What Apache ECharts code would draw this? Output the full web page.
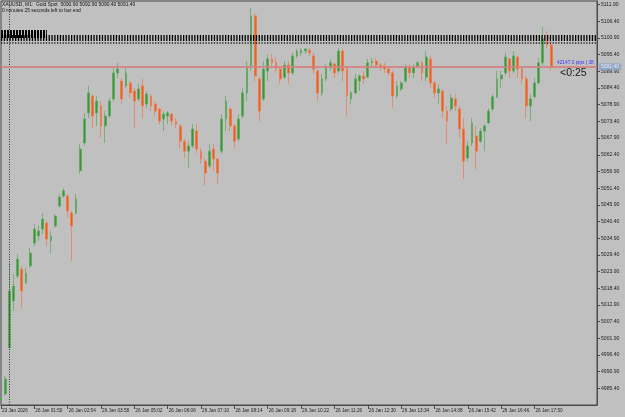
<!DOCTYPE html>
<html>
<head>
<meta charset="utf-8">
<title>XAUUSD M1</title>
<script src="https://cdn.jsdelivr.net/npm/echarts@6.0.0/dist/echarts.min.js"></script>
<style>
  html, body { margin: 0; padding: 0; background: #c0c0c0; }
  #chart { width: 625px; height: 417px; }
</style>
</head>
<body>
<div id="chart"></div>
<script>
// one candle = 8 minutes, first two candles are the Friday close
var categories = ['23 Jan 2026', '23 Jan 23:54'];
for (var k = 2; k < 144; k++) {
  var m = 62 + (k - 2) * 8;
  var hh = Math.floor(m / 60), mm = m % 60;
  categories.push('26 Jan ' + (hh < 10 ? '0' : '') + hh + ':' + (mm < 10 ? '0' : '') + mm);
}

var opens = [
  4981.5, 4983.5, 4998.7, 5014.2, 5022.4, 5024.7, 5020.1, 5025.7, 5033.3, 5035.6,
  5037.9, 5039.9, 5034.0, 5038.9, 5045.5, 5048.8, 5048.8, 5043.2, 5043.2, 5057.1,
  5066.3, 5076.2, 5081.8, 5076.2, 5078.5, 5071.9, 5075.2, 5080.8, 5089.4, 5086.7,
  5085.1, 5086.1, 5083.4, 5080.8, 5085.1, 5079.1, 5081.8, 5079.1, 5077.5, 5074.2,
  5075.2, 5075.8, 5073.5, 5071.9, 5066.9, 5063.6, 5065.3, 5070.2, 5063.6, 5060.3,
  5058.7, 5064.3, 5061.0, 5063.6, 5074.2, 5077.5, 5071.9, 5067.6, 5075.2, 5082.8,
  5091.7, 5108.2, 5087.4, 5080.8, 5090.0, 5094.0, 5092.7, 5090.7, 5088.0, 5092.0,
  5089.4, 5095.0, 5096.0, 5096.6, 5096.9, 5095.0, 5090.0, 5082.8, 5087.4, 5091.3,
  5092.3, 5090.0, 5096.6, 5090.7, 5080.8, 5082.8, 5086.7, 5088.4, 5088.0, 5092.7,
  5093.3, 5092.0, 5091.7, 5090.7, 5089.4, 5081.8, 5084.1, 5086.7, 5091.3, 5089.4,
  5091.7, 5092.7, 5088.0, 5094.0, 5086.1, 5082.8, 5083.4, 5076.8, 5077.5, 5080.8,
  5077.5, 5070.9, 5061.3, 5066.3, 5068.6, 5066.9, 5070.2, 5072.9, 5077.5, 5081.5,
  5087.4, 5089.4, 5094.0, 5090.0, 5094.6, 5090.7, 5087.4, 5078.5, 5081.5, 5086.1,
  5092.7, 5100.6, 5098.6
];
var closes = [
  4982.2, 4988.5, 5017.5, 5019.1, 5028.0, 5017.5, 5023.4, 5030.0, 5037.9, 5037.3,
  5041.2, 5034.6, 5035.6, 5042.2, 5048.5, 5050.5, 5043.9, 5038.9, 5047.8, 5064.3,
  5074.2, 5082.8, 5075.2, 5080.1, 5071.9, 5075.2, 5080.1, 5089.4, 5090.7, 5080.8,
  5089.4, 5082.8, 5080.1, 5084.1, 5078.5, 5082.4, 5078.5, 5076.8, 5073.5, 5075.8,
  5076.2, 5073.5, 5072.5, 5066.9, 5063.6, 5065.3, 5070.9, 5064.3, 5061.0, 5056.4,
  5063.6, 5061.0, 5056.4, 5074.2, 5080.1, 5071.9, 5066.9, 5074.2, 5082.8, 5091.7,
  5108.2, 5088.4, 5076.8, 5090.7, 5094.0, 5092.7, 5090.7, 5087.4, 5092.0, 5089.4,
  5095.0, 5096.6, 5096.9, 5097.3, 5096.0, 5090.7, 5082.8, 5087.4, 5091.3, 5092.7,
  5089.4, 5096.6, 5090.0, 5081.8, 5082.8, 5087.4, 5088.4, 5087.4, 5092.7, 5093.3,
  5092.0, 5091.3, 5090.7, 5089.4, 5081.8, 5085.1, 5086.1, 5091.3, 5089.4, 5091.3,
  5092.7, 5089.4, 5094.6, 5086.1, 5082.8, 5084.1, 5076.8, 5073.5, 5081.1, 5078.5,
  5070.9, 5060.3, 5065.3, 5072.9, 5063.6, 5070.2, 5071.9, 5076.8, 5081.5, 5087.4,
  5088.7, 5094.6, 5090.0, 5095.0, 5090.7, 5087.4, 5078.5, 5080.8, 5086.1, 5092.7,
  5100.6, 5098.6, 5091.4
];
var lows = [
  4981.2, 4982.9, 4998.7, 5010.9, 5021.8, 5011.9, 5019.8, 5025.1, 5032.3, 5034.0,
  5036.3, 5032.3, 5030.0, 5038.3, 5044.9, 5048.2, 5041.6, 5027.4, 5042.9, 5056.1,
  5065.3, 5074.5, 5071.2, 5071.9, 5067.9, 5066.3, 5074.5, 5080.1, 5087.7, 5079.1,
  5084.4, 5081.1, 5071.2, 5080.1, 5074.5, 5077.8, 5076.8, 5075.2, 5072.5, 5070.2,
  5072.5, 5071.9, 5071.2, 5064.6, 5061.3, 5058.0, 5064.6, 5063.0, 5059.4, 5052.1,
  5058.0, 5057.1, 5052.8, 5062.7, 5070.2, 5070.2, 5064.6, 5066.9, 5074.5, 5080.1,
  5090.0, 5086.7, 5073.5, 5080.1, 5086.7, 5091.0, 5089.4, 5085.7, 5087.4, 5085.7,
  5088.7, 5094.3, 5095.0, 5095.6, 5095.0, 5089.0, 5080.1, 5081.8, 5086.7, 5090.0,
  5087.7, 5089.4, 5086.7, 5075.2, 5079.1, 5082.4, 5083.4, 5085.7, 5087.7, 5091.0,
  5091.0, 5090.0, 5089.4, 5088.4, 5077.8, 5081.1, 5083.4, 5086.1, 5087.7, 5087.7,
  5091.0, 5086.7, 5086.7, 5084.4, 5081.1, 5079.1, 5074.5, 5066.0, 5076.8, 5076.8,
  5067.9, 5054.4, 5060.3, 5065.3, 5057.7, 5066.3, 5063.6, 5072.5, 5076.8, 5081.1,
  5084.4, 5088.7, 5087.7, 5089.4, 5087.7, 5085.7, 5074.5, 5073.5, 5081.1, 5085.7,
  5092.0, 5097.6, 5090.0
];
var highs = [
  4982.5, 4989.5, 5026.7, 5023.1, 5029.7, 5025.7, 5025.1, 5031.7, 5039.6, 5038.9,
  5043.2, 5040.6, 5037.3, 5042.9, 5049.5, 5051.4, 5049.5, 5043.9, 5049.5, 5066.0,
  5076.2, 5085.1, 5082.4, 5081.8, 5080.1, 5076.8, 5081.1, 5091.0, 5092.7, 5087.7,
  5091.0, 5086.7, 5084.4, 5085.7, 5087.4, 5083.4, 5082.4, 5080.1, 5077.8, 5076.8,
  5076.8, 5076.2, 5074.5, 5072.5, 5067.6, 5066.9, 5072.5, 5072.5, 5064.6, 5061.3,
  5066.0, 5066.0, 5061.3, 5075.8, 5081.8, 5077.8, 5072.5, 5075.8, 5084.4, 5093.3,
  5110.8, 5109.1, 5088.0, 5093.3, 5095.6, 5095.6, 5094.3, 5091.0, 5093.3, 5093.3,
  5096.0, 5097.3, 5097.6, 5097.6, 5097.6, 5096.0, 5090.7, 5089.0, 5092.3, 5094.0,
  5092.7, 5097.6, 5097.3, 5091.7, 5083.4, 5089.0, 5089.0, 5090.0, 5094.0, 5094.3,
  5094.3, 5092.7, 5092.7, 5091.0, 5090.0, 5086.7, 5086.7, 5092.3, 5092.3, 5092.3,
  5093.3, 5093.3, 5096.6, 5095.0, 5086.7, 5085.7, 5084.1, 5078.5, 5082.4, 5082.4,
  5078.5, 5074.5, 5066.9, 5074.5, 5071.9, 5071.2, 5072.5, 5077.8, 5082.4, 5090.0,
  5090.0, 5096.0, 5094.3, 5096.6, 5095.0, 5091.0, 5088.4, 5082.4, 5087.7, 5094.3,
  5104.5, 5103.2, 5099.9
];

var bidPrice = 5091.40;
var titleLine = 'XAUUSD, M1:  Gold Spot  5090.90 5092.90 5090.40 5091.40';
var timerLine = '0 minutes 25 seconds left to bar end';

var candles = [];
for (var i = 0; i < opens.length; i++) {
  candles.push([opens[i], closes[i], lows[i], highs[i]]);
}

// labels every 64 minutes, only where bars exist
function labelAt(idx) {
  return idx % 8 === 0 && idx <= 128;
}

var chart = echarts.init(document.getElementById('chart'), null, { renderer: 'canvas' });

var option = {
  backgroundColor: '#c0c0c0',
  animation: false,
  grid: {
    left: 1,
    right: 28,
    top: 1,
    bottom: 12,
    show: true,
    borderColor: '#4a4a4a',
    borderWidth: 1,
    outerBoundsMode: 'none'
  },
  xAxis: {
    type: 'category',
    data: categories,
    boundaryGap: false,
    axisLine: { lineStyle: { color: '#4a4a4a', width: 1 } },
    axisTick: { interval: function (idx) { return labelAt(idx); }, length: 4, lineStyle: { color: '#4a4a4a' } },
    axisLabel: {
      interval: function (idx) { return labelAt(idx); },
      align: 'left',
      verticalAlign: 'top',
      margin: 3,
      padding: [0, 0, 0, 1],
      fontSize: 4.7,
      fontFamily: 'Liberation Sans',
      color: '#222'
    },
    splitLine: { show: false }
  },
  yAxis: {
    type: 'value',
    position: 'right',
    min: 4979.9,
    max: 5113.1,
    interval: 5.5,
    scale: true,
    axisLine: { show: true, lineStyle: { color: '#4a4a4a', width: 1 } },
    axisTick: { show: true, length: 3, lineStyle: { color: '#4a4a4a' } },
    axisLabel: {
      showMinLabel: false,
      showMaxLabel: false,
      margin: 4,
      fontSize: 5.1,
      fontFamily: 'Liberation Sans',
      color: '#222',
      formatter: function (v) { return v.toFixed(2); }
    },
    splitLine: { show: false }
  },
  series: [{
    type: 'candlestick',
    data: candles,
    barWidth: 2.3,
    clip: true,
    itemStyle: {
      color: '#3a983a',
      color0: '#f25c1c',
      borderColor: '#5aa85a',
      borderColor0: '#ee7a4a',
      borderWidth: 0.7
    },
    markLine: {
      silent: true,
      symbol: ['none', 'none'],
      label: { show: false },
      data: [
        // period separator
        { xAxis: categories[2], lineStyle: { color: '#333', width: 1, type: [1, 1.5] } },
        // black tick band of the indicator
        { yAxis: 5101.0, lineStyle: { color: '#000', width: 6, type: [1.3, 1.5] } },
        { yAxis: 5099.3, lineStyle: { color: '#222', width: 1.5, type: [1.3, 1.5] } },
        [
          { coord: [categories[0], 5102.4], lineStyle: { color: '#000', width: 8, type: [2, 1] } },
          { coord: [categories[11], 5102.4] }
        ],
        // bid line
        {
          yAxis: bidPrice,
          lineStyle: { color: '#d28080', width: 2, type: 'solid', opacity: 0.85 },
          label: {
            show: true,
            position: 'end',
            distance: 2,
            formatter: bidPrice.toFixed(2),
            backgroundColor: '#8fa3c8',
            color: '#eef2fa',
            fontSize: 5,
            fontFamily: 'Liberation Sans',
            padding: [1, 2, 1, 2]
          }
        }
      ]
    }
  }],
  graphic: [
    { type: 'text', left: 2, top: 2, style: { text: titleLine, fontSize: 4.9, fontFamily: 'Liberation Sans', fill: '#111' } },
    { type: 'text', left: 2, top: 8.5, style: { text: timerLine, fontSize: 4.9, fontFamily: 'Liberation Sans', fill: '#111' } },
    { type: 'text', left: 557, top: 60.5, style: { text: '42147.0 pips | 38', fontSize: 4.8, fontFamily: 'Liberation Sans', fill: '#3535ff' } },
    { type: 'text', left: 560, top: 67.5, style: { text: '<0:25', fontSize: 10.5, fontFamily: 'Liberation Sans', fill: '#1a1a1a' } }
  ]
};

chart.setOption(option);
</script>
</body>
</html>
